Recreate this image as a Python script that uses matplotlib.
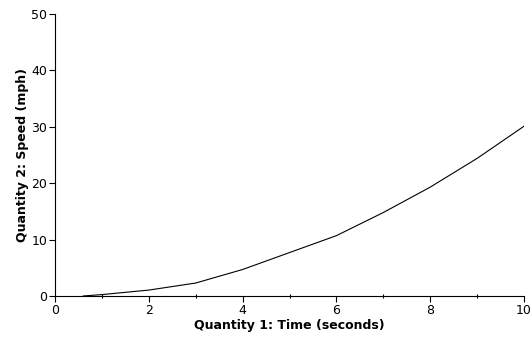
import numpy as np
from matplotlib import pyplot as plt
from matplotlib.ticker import MultipleLocator

# values
time_s = [0.6, 1, 2, 3, 4, 5, 6, 7, 8, 9, 10]
speed_mph = [0.0, 0.25, 1.05, 2.3, 4.7, 7.7, 10.7, 14.8, 19.3, 24.4, 30.1]

fig = plt.figure(figsize=(5.32, 3.37), dpi=100)
ax = fig.add_axes([55/532., 1 - 296/337., (524 - 55)/532., (296 - 14)/337.])

ax.plot(time_s, speed_mph, color="black", lw=0.8)

ax.set_xlim(0, 10)
ax.set_ylim(0, 50)
ax.xaxis.set_major_locator(MultipleLocator(2))
ax.xaxis.set_minor_locator(MultipleLocator(1))
ax.yaxis.set_major_locator(MultipleLocator(10))

for side in ("top", "right"):
    ax.spines[side].set_visible(False)
for side in ("left", "bottom"):
    ax.spines[side].set_linewidth(0.8)

ax.tick_params(which="major", direction="out", length=4, width=0.8, labelsize=9, pad=1.5, colors="black")
ax.tick_params(axis="x", which="minor", direction="inout", length=3, width=0.8)

ax.set_xlabel("Quantity 1: Time (seconds)", fontsize=9, fontweight="bold", labelpad=2)
ax.set_ylabel("Quantity 2: Speed (mph)", fontsize=9, fontweight="bold", labelpad=2)

fig.savefig("out.png", dpi=100)
